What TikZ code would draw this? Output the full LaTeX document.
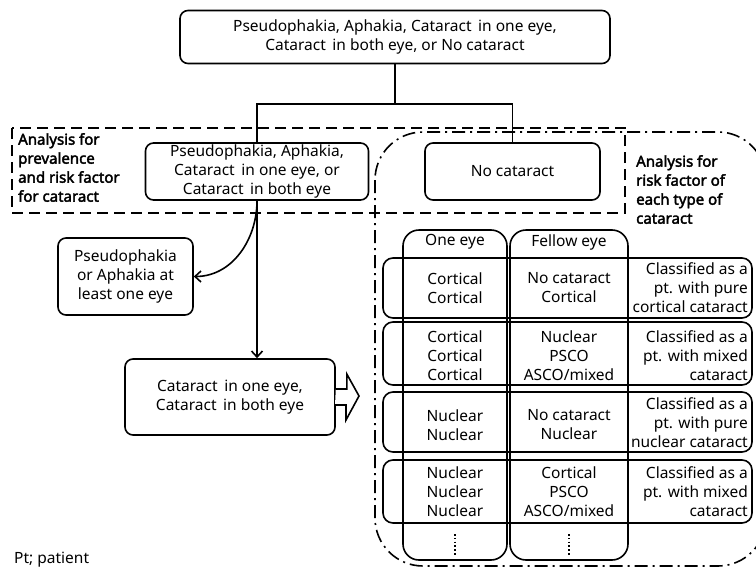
\documentclass[tikz,border=0pt]{standalone}
\usepackage{fontspec}
\setmainfont{Noto Sans}[AutoFakeBold=2.5]
\usetikzlibrary{arrows.meta}
\begin{document}
\begin{tikzpicture}[x=1pt,y=-1pt,
  every node/.style={font=\fontsize{15.5}{19}\selectfont},
  box/.style={draw, line width=1.6pt, rounded corners=8pt, align=center, inner sep=0pt},
  colbox/.style={draw, line width=1.6pt, rounded corners=16pt, inner sep=0pt},
  rowbox/.style={draw, line width=1.6pt, rounded corners=10pt, inner sep=0pt, minimum width=369pt},
  lbl/.style={align=center, inner sep=0pt},
  rlbl/.style={align=right, inner sep=0pt, anchor=east},
  blbl/.style={align=left, inner sep=0pt, font=\fontsize{15}{19}\selectfont\bfseries},
  conn/.style={line width=1.6pt},
  arr/.style={line width=1.6pt, -{Straight Barb[length=6pt,width=11pt,line width=1.6pt]}},
  dots/.style={line width=2.6pt, dash pattern=on 1.6pt off 2.2pt}
]
\useasboundingbox (0,0) rectangle (756,568);

% regions
\draw[line width=1.6pt, dash pattern=on 11pt off 6pt] (12,128) rectangle (625,213);
\draw[line width=1.6pt, dash pattern=on 13pt off 5pt on 2pt off 5pt, rounded corners=48pt] (375,132) rectangle (766,566);

% top
\node[box, minimum width=430pt, minimum height=53pt] (top) at (395,37)
  {Pseudophakia, Aphakia, Cataract\, in one eye,\\Cataract\, in both eye, or No cataract};
\node[box, minimum width=223pt, minimum height=57pt] (mid) at (257,171.5)
  {Pseudophakia, Aphakia,\\Cataract\, in one eye, or\\Cataract\, in both eye};
\node[box, minimum width=175pt, minimum height=57pt] (nocat) at (512.5,171.5) {No cataract};
\node[box, minimum width=135pt, minimum height=77pt] (pa) at (125.5,276.5)
  {Pseudophakia\\or Aphakia at\\least one eye};
\node[box, minimum width=210pt, minimum height=76pt] (cat) at (230,397)
  {Cataract\, in one eye,\\Cataract\, in both eye};

% connectors
\coordinate (split) at (395,104);
\draw[conn] (top.south) -- (split);
\draw[conn] (mid.north) |- (split) -| (nocat.north);
\draw[arr] (mid.south) to[out=-90,in=0] (pa.east);
\draw[arr] (mid.south) -- (mid.south |- cat.north);

% fat arrow
\draw[line width=1.6pt, line join=miter, fill=white] (cat.east) ++(0,-8) -- ++(11,0) -- ++(0,-15) -- (359,396) -- (346,420) -- ++(0,-15) -- ++(-11,0);

% labels
\node[blbl, anchor=north west] (lbl1) at (18,133) {Analysis for\\prevalence\\and risk factor\\for cataract};
\node[blbl, anchor=north west] (lbl2) at (636,155) {Analysis for\\risk factor of\\each type of\\cataract};
\node[lbl, anchor=west] (pt) at (14,560) {Pt; patient};

% rows
\node[rowbox, minimum height=60pt] (r1) at (567.5,288) {};
\node[rowbox, minimum height=63pt] (r2) at (567.5,353.5) {};
\node[rowbox, minimum height=60pt] (r3) at (567.5,422) {};
\node[rowbox, minimum height=63pt] (r4) at (567.5,491.5) {};

% columns
\node[colbox, minimum width=104pt, minimum height=330pt] (c1) at (455,395) {};
\node[colbox, minimum width=118pt, minimum height=330pt] (c2) at (569,395) {};

\node[lbl] (h1) at (455,242) {One eye};
\node[lbl] (h2) at (569,242) {Fellow eye};

\node[lbl] (a1) at (455,288) {Cortical\\Cortical};
\node[lbl] (b1) at (569,288) {No cataract\\Cortical};
\node[rlbl] (d1) at (748,288) {Classified as a\\pt. with pure\\cortical cataract};

\node[lbl] (a2) at (455,356) {Cortical\\Cortical\\Cortical};
\node[lbl] (b2) at (569,356) {Nuclear\\PSCO\\ASCO/mixed};
\node[rlbl] (d2) at (748,356) {Classified as a\\pt. with mixed\\cataract};

\node[lbl] (a3) at (455,425) {Nuclear\\Nuclear};
\node[lbl] (b3) at (569,425) {No cataract\\Nuclear};
\node[rlbl] (d3) at (748,423) {Classified as a\\pt. with pure\\nuclear cataract};

\node[lbl] (a4) at (455,492) {Nuclear\\Nuclear\\Nuclear};
\node[lbl] (b4) at (569,492) {Cortical\\PSCO\\ASCO/mixed};
\node[rlbl] (d4) at (748,492) {Classified as a\\pt. with mixed\\cataract};

\coordinate (v1a) at (455,534); \coordinate (v1b) at (455,556);
\coordinate (v2a) at (569,534); \coordinate (v2b) at (569,556);
\draw[dots] (v1a) -- (v1b);
\draw[dots] (v2a) -- (v2b);
\end{tikzpicture}
\end{document}
